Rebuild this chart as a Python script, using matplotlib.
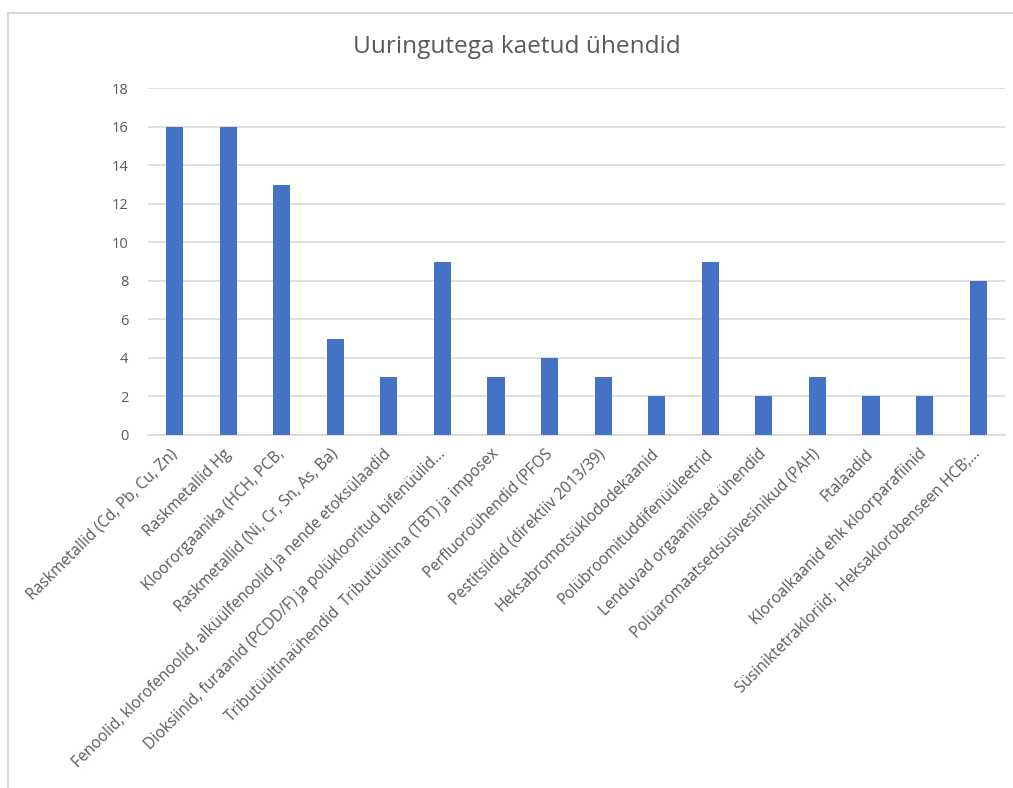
import matplotlib.pyplot as plt
from matplotlib.lines import Line2D

plt.rcParams['font.family'] = ['Open Sans', 'DejaVu Sans']

categories = [
    'Raskmetallid (Cd, Pb, Cu, Zn)',
    'Raskmetallid Hg',
    'Kloororgaanika (HCH, PCB,',
    'Raskmetallid (Ni, Cr, Sn, As, Ba)',
    'Fenoolid, klorofenoolid, alküülfenoolid ja nende etoksülaadid',
    'Dioksiinid, furaanid (PCDD/F) ja polüklooritud bifenüülid…',
    'Tributüültinaühendid  Tributüültina (TBT) ja imposex',
    'Perfluoroühendid (PFOS',
    'Pestitsiidid (direktiiv 2013/39)',
    'Heksabromotsüklododekaanid',
    'Polübroomituddifenüüleetrid',
    'Lenduvad orgaanilised ühendid',
    'Polüaromaatsedsüsivesinikud (PAH)',
    'Ftalaadid',
    'Kloroalkaanid ehk kloorparafiinid',
    'Süsiniktetrakloriid;  Heksaklorobenseen HCB;…',
]
counts = [16, 16, 13, 5, 3, 9, 3, 4, 3, 2, 9, 2, 3, 2, 2, 8]
yticks = list(range(0, 19, 2))

grey = '#595959'
fig = plt.figure(figsize=(10.13, 7.88), dpi=100)
ax = fig.add_axes([0.146, 0.448, 0.846, 0.44])

x = list(range(len(categories)))
ax.bar(x, counts, width=0.32, color='#4472C4', zorder=3)

ax.set_xlim(-0.5, len(categories) - 0.5)
ax.set_ylim(0, 18)
ax.set_yticks(yticks)
ax.yaxis.grid(True, color='#D9D9D9', linewidth=1.2, zorder=0)
ax.tick_params(axis='y', length=0, pad=14, labelsize=10.5, labelcolor=grey)
ax.tick_params(axis='x', length=0, pad=12)
ax.set_xticks(x)
ax.set_xticklabels(categories, rotation=45, ha='right', va='center',
                   rotation_mode='anchor', fontsize=11.2, color=grey)
for s in ['top', 'right', 'left']:
    ax.spines[s].set_visible(False)
ax.spines['bottom'].set_color('#D9D9D9')
ax.spines['bottom'].set_linewidth(1.2)

fig.text(0.51, 0.94, 'Uuringutega kaetud ühendid', ha='center', va='center',
         fontsize=17.6, color=grey)

# chart frame (top and left edges)
fig.add_artist(Line2D([0.008, 1.0], [0.9835, 0.9835], color='#D9D9D9', linewidth=1.5))
fig.add_artist(Line2D([0.008, 0.008], [0.0, 0.9835], color='#D9D9D9', linewidth=1.5))

fig.savefig('out.png', dpi=100, facecolor='white')
